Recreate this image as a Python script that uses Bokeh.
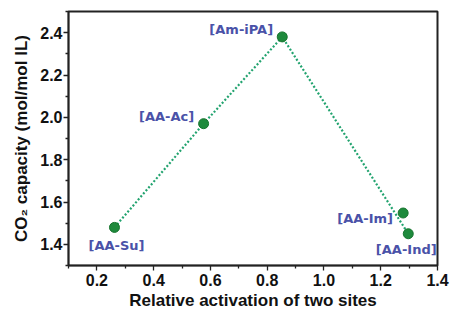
from bokeh.plotting import figure
from bokeh.models import FixedTicker, Range1d, ColumnDataSource, Title
from bokeh.core.properties import value
from bokeh.embed import file_html
from bokeh.resources import INLINE

# ---- data ----
names = ["[AA-Su]", "[AA-Ac]", "[Am-iPA]", "[AA-Im]", "[AA-Ind]"]
activation = [0.262, 0.576, 0.853, 1.279, 1.297]
capacity = [1.48, 1.97, 2.38, 1.548, 1.45]
line_order = [0, 1, 2, 4]  # trend line passes Su -> Ac -> iPA -> Ind
x_ticks = [0.2, 0.4, 0.6, 0.8, 1.0, 1.2, 1.4]
y_ticks = [1.4, 1.6, 1.8, 2.0, 2.2, 2.4]
x_minor = [0.1, 0.3, 0.5, 0.7, 0.9, 1.1, 1.3]
y_minor = [1.3, 1.5, 1.7, 1.9, 2.1, 2.3, 2.5]
x_title = "Relative activation of two sites"
y_title = "CO\u2082 capacity (mol/mol IL)"

# label pixel offsets (style)
label_dx = [2, -37, -41, -38, -2]
label_dy = [18, -7, -7, 5, 16]

p = figure(width=450, height=309, output_backend="svg", toolbar_location=None,
           x_range=Range1d(0.1, 1.4), y_range=Range1d(1.3, 2.5),
           min_border_left=68, min_border_right=13, min_border_top=11, min_border_bottom=43)
p.grid.visible = False
p.outline_line_color = "#222222"
p.outline_line_width = 2
p.background_fill_color = "white"
p.border_fill_color = "white"

p.xaxis.ticker = FixedTicker(ticks=x_ticks, minor_ticks=x_minor)
p.yaxis.ticker = FixedTicker(ticks=y_ticks, minor_ticks=y_minor)
p.xaxis.major_label_overrides = {t: f"{t:.1f}" for t in x_ticks}
p.yaxis.major_label_overrides = {t: f"{t:.1f}" for t in y_ticks}

for ax in (p.xaxis[0], p.yaxis[0]):
    ax.axis_line_color = "#222222"
    ax.axis_line_width = 1.5
    ax.major_tick_line_color = "#222222"
    ax.minor_tick_line_color = "#222222"
    ax.major_tick_line_width = 1.3
    ax.minor_tick_line_width = 1.3
    ax.major_tick_in = 0
    ax.major_tick_out = 5
    ax.minor_tick_in = 0
    ax.minor_tick_out = 3
    ax.major_label_text_font = "Liberation Sans"
    ax.major_label_text_font_style = "bold"
    ax.major_label_text_font_size = "16px"
    ax.major_label_text_color = "#111111"
    ax.axis_label_text_font = "Liberation Sans"
    ax.axis_label_text_font_style = "bold"
    ax.axis_label_text_font_size = "17px"
    ax.axis_label_text_color = "#111111"

p.xaxis.major_label_standoff = 3
p.yaxis.major_label_standoff = 1
p.yaxis.axis_label = y_title
p.yaxis.axis_label_standoff = 6

p.add_layout(Title(text=x_title, align="center", offset=-13, standoff=0,
                   text_font="Liberation Sans", text_font_style="bold",
                   text_font_size="17px", text_color="#111111"), "below")

lx = [activation[i] for i in line_order]
ly = [capacity[i] for i in line_order]
p.line(lx, ly, line_color="#22a36f", line_width=2.2, line_dash="2 2")

src = ColumnDataSource(dict(x=activation, y=capacity, name=names, dx=label_dx, dy=label_dy))
p.scatter("x", "y", source=src, size=10, fill_color="#1e8a3c", line_color="#17752f", line_width=1)

p.text("x", "y", text="name", source=src, x_offset="dx", y_offset="dy",
       text_align="center", text_baseline="middle",
       text_font=value("DejaVu Sans"), text_font_style="bold",
       text_font_size="13px", text_color="#4a52a8")

open("out.html", "w").write(file_html(p, INLINE))
